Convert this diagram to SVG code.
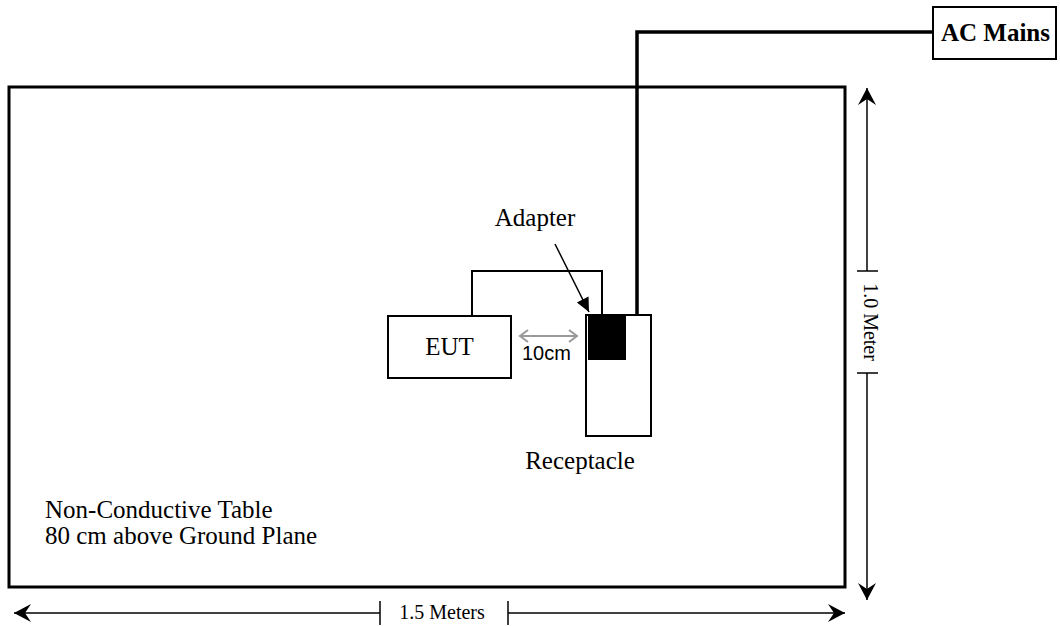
<svg xmlns="http://www.w3.org/2000/svg" width="1060" height="626" viewBox="0 0 1060 626">
<style>
.t{font-family:"Liberation Serif","Times New Roman",serif;fill:#000}
.box{fill:#fff;stroke:#000;stroke-width:2}
.wire{fill:none;stroke:#000;stroke-width:2}
.dim{fill:none;stroke:#000;stroke-width:1.5}
</style>
<defs>
<marker id="ah" viewBox="-20 -10 22 20" markerWidth="22" markerHeight="20" refX="0" refY="0" orient="auto-start-reverse" markerUnits="userSpaceOnUse">
<path d="M0,0 L-17,-9 L-11,0 L-17,9 Z" fill="#000"/>
</marker>
<marker id="tri" viewBox="-16 -8 18 16" markerWidth="18" markerHeight="16" refX="0" refY="0" orient="auto" markerUnits="userSpaceOnUse">
<path d="M0,0 L-14,-6.5 L-14,6.5 Z" fill="#000"/>
</marker>
<marker id="ga" viewBox="-10 -8 12 16" markerWidth="12" markerHeight="16" refX="0" refY="0" orient="auto-start-reverse" markerUnits="userSpaceOnUse">
<path d="M-8,-6 L0,0 L-8,6" fill="none" stroke="#999" stroke-width="2"/>
</marker>
</defs>
<g id="table">
<rect x="9" y="87" width="836" height="500" fill="#fff" stroke="#000" stroke-width="3"/>
<text class="t" x="45" y="518" font-size="25">Non-Conductive Table</text>
<text class="t" x="45" y="544" font-size="25">80 cm above Ground Plane</text>
</g>
<g id="connectors">
<polyline class="wire" points="472,316 472,271 602,271 602,314"/>
<polyline fill="none" stroke="#000" stroke-width="3.5" points="637,314 637,32 933,32"/>
<line x1="555" y1="244" x2="589" y2="312" stroke="#000" stroke-width="1.5" marker-end="url(#tri)"/>
<line x1="520" y1="336" x2="577" y2="336" stroke="#999" stroke-width="2" marker-start="url(#ga)" marker-end="url(#ga)"/>
</g>
<g id="eut">
<rect class="box" x="388" y="316" width="123" height="62"/>
<text class="t" x="449.5" y="355" font-size="25" text-anchor="middle">EUT</text>
</g>
<text x="522" y="360" font-family="Liberation Sans, Arial, sans-serif" font-size="20" fill="#000">10cm</text>
<g id="receptacle">
<rect class="box" x="586" y="315" width="65" height="121"/>
<rect x="588" y="316" width="38" height="44" fill="#000"/>
<text class="t" x="580" y="469" font-size="25" text-anchor="middle">Receptacle</text>
</g>
<g id="adapter">
<text class="t" x="535" y="226" font-size="25" text-anchor="middle">Adapter</text>
</g>
<g id="ac-mains">
<rect x="933" y="7" width="123" height="52" fill="#fff" stroke="#000" stroke-width="2"/>
<text class="t" x="995.5" y="41" font-size="25" font-weight="bold" text-anchor="middle">AC Mains</text>
</g>
<g id="dimensions">
<line class="dim" x1="867" y1="88" x2="867" y2="271" marker-start="url(#ah)"/>
<line class="dim" x1="857" y1="271" x2="878" y2="271"/>
<line class="dim" x1="867" y1="373" x2="867" y2="600" marker-end="url(#ah)"/>
<line class="dim" x1="857" y1="373" x2="878" y2="373"/>
<text class="t" font-size="20" text-anchor="middle" transform="translate(864,322) rotate(90)">1.0 Meter</text>
<line class="dim" x1="14" y1="613" x2="380" y2="613" marker-start="url(#ah)"/>
<line class="dim" x1="380" y1="601" x2="380" y2="625"/>
<line class="dim" x1="508" y1="613" x2="845" y2="613" marker-end="url(#ah)"/>
<line class="dim" x1="508" y1="601" x2="508" y2="625"/>
<text class="t" x="442" y="619" font-size="20" text-anchor="middle">1.5 Meters</text>
</g>
</svg>
